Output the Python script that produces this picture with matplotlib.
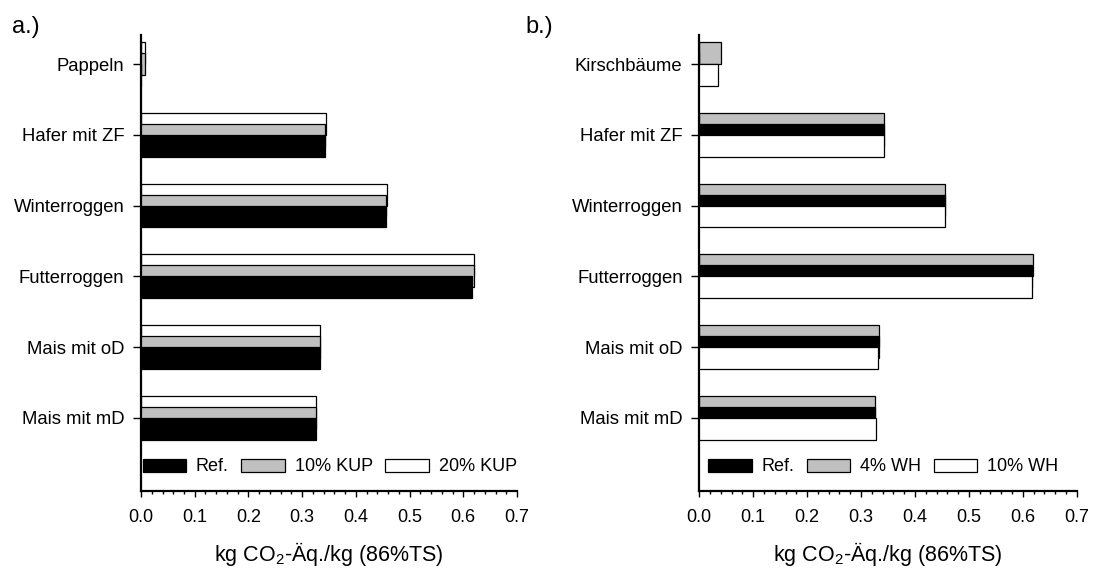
import matplotlib
matplotlib.use("Agg")
import matplotlib.pyplot as plt
import matplotlib.patches as mpatches
from matplotlib.ticker import MultipleLocator
import numpy as np

plt.rcParams["font.family"] = ["Liberation Sans", "DejaVu Sans"]
plt.rcParams["mathtext.fontset"] = "custom"
plt.rcParams["mathtext.rm"] = "Liberation Sans"
plt.rcParams["mathtext.it"] = "Liberation Sans:italic"

# ── data ───────────────────────────────────────────────────────────────────
cats_a = ["Mais mit mD", "Mais mit oD", "Futterroggen", "Winterroggen", "Hafer mit ZF", "Pappeln"]
ref_a = [0.326, 0.333, 0.617, 0.456, 0.342, 0.0]
kup10 = [0.326, 0.333, 0.619, 0.456, 0.343, 0.008]
kup20 = [0.326, 0.334, 0.620, 0.458, 0.345, 0.008]

cats_b = ["Mais mit mD", "Mais mit oD", "Futterroggen", "Winterroggen", "Hafer mit ZF", "Kirschbäume"]
ref_b = [0.325, 0.333, 0.617, 0.456, 0.342, 0.0]
wh4 = [0.325, 0.333, 0.618, 0.456, 0.342, 0.040]
wh10 = [0.327, 0.332, 0.617, 0.456, 0.343, 0.035]

BLACK = "#000000"
GREY = "#C0C0C0"
WHITE = "#FFFFFF"

H = 0.31     # bar height (bars overlap by half)
OFF = 0.155
XLABEL = r"kg CO$_\mathregular{2}$-Äq./kg (86%TS)"

fig = plt.figure(figsize=(10.94, 5.68), dpi=100)
ax1 = fig.add_axes([0.1289, 0.1361, 0.3437, 0.8023])
ax2 = fig.add_axes([0.6392, 0.1361, 0.3450, 0.8023])


def draw(ax, cats, series, labels_order, leg_x):
    y = np.arange(len(cats))
    # series: (values, colour, offset, label) in drawing order
    for z, (vals, col, off, lab) in enumerate(series):
        ax.barh(y + off, vals, height=H, color=col, edgecolor="black",
                linewidth=0.9, zorder=2 + z, label=lab)
    ax.set_yticks(y)
    ax.set_yticklabels(cats, fontsize=13.3)
    ax.set_ylim(-1.03, 5.41)
    ax.set_xlim(0, 0.7)
    ax.set_xticks(np.arange(0, 0.71, 0.1))
    ax.set_xticklabels([f"{v:.1f}" for v in np.arange(0, 0.71, 0.1)], fontsize=13)
    ax.xaxis.set_minor_locator(MultipleLocator(0.02))
    ax.tick_params(axis="x", which="major", length=4, width=1, pad=9, direction="out")
    ax.tick_params(axis="x", which="minor", length=2.2, width=1, direction="out")
    ax.tick_params(axis="y", length=6, width=1, pad=6)
    for s in ["top", "right"]:
        ax.spines[s].set_visible(False)
    for s in ["left", "bottom"]:
        ax.spines[s].set_linewidth(1.6)
    ax.set_xlabel(XLABEL, fontsize=15.5, labelpad=10)

    handles = [mpatches.Patch(facecolor=c, edgecolor="black", linewidth=0.9, label=l)
               for l, c in labels_order]
    ax.legend(handles=handles, ncol=3, loc="center left", frameon=False,
              fontsize=13, handlelength=2.4, handleheight=0.72,
              handletextpad=0.55, columnspacing=0.7, borderpad=0,
              borderaxespad=0, bbox_to_anchor=(leg_x, 0.052))


# panel a: white on top, grey in middle, black below (black drawn last)
draw(ax1, cats_a,
     [(kup20, WHITE, OFF, "20% KUP"), (kup10, GREY, 0.0, "10% KUP"), (ref_a, BLACK, -OFF, "Ref.")],
     [("Ref.", BLACK), ("10% KUP", GREY), ("20% KUP", WHITE)], 0.004)

# panel b: grey on top, black in middle, white below (white drawn last)
draw(ax2, cats_b,
     [(wh4, GREY, OFF, "4% WH"), (ref_b, BLACK, 0.0, "Ref."), (wh10, WHITE, -OFF, "10% WH")],
     [("Ref.", BLACK), ("4% WH", GREY), ("10% WH", WHITE)], 0.024)

fig.text(0.011, 0.953, "a.)", fontsize=17, va="center", ha="left")
fig.text(0.48, 0.953, "b.)", fontsize=17, va="center", ha="left")

fig.savefig("out.png", dpi=100)
